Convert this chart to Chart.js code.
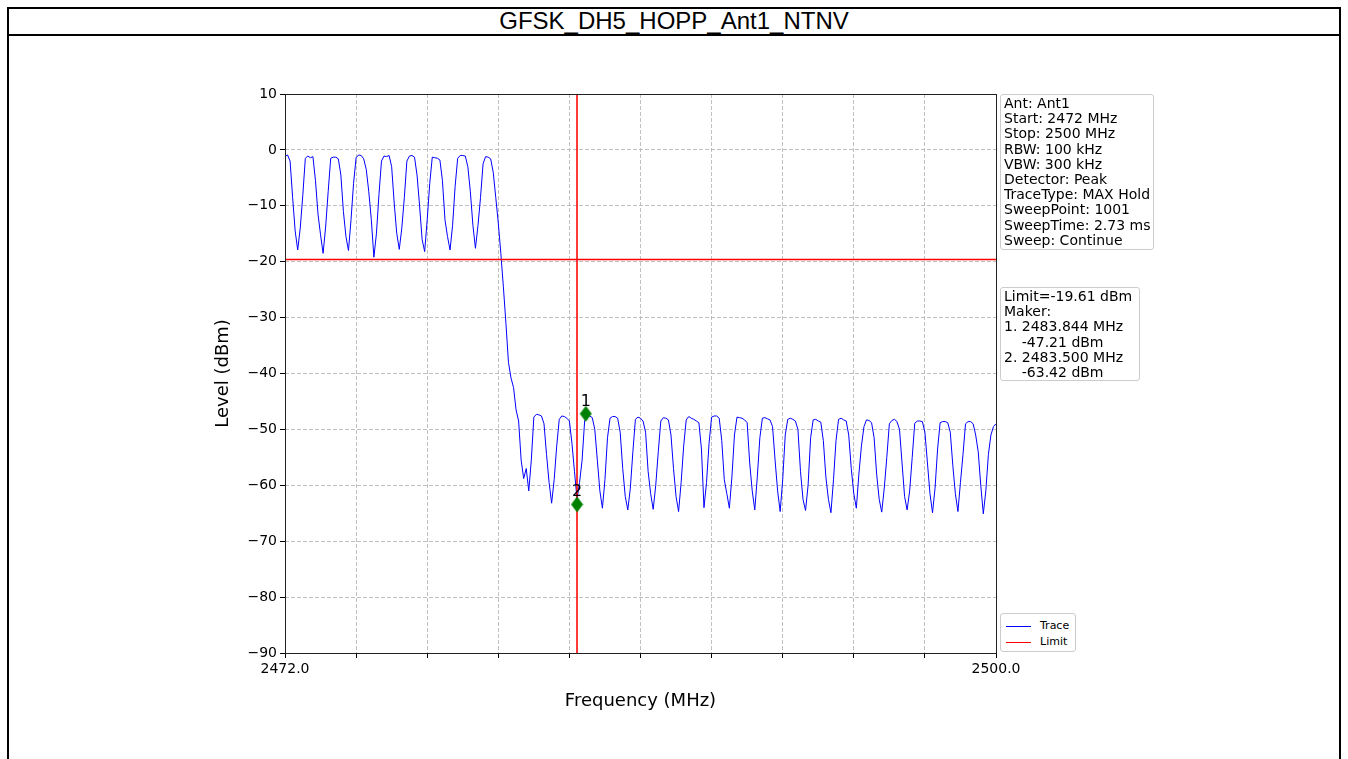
<!DOCTYPE html>
<html>
<head>
<meta charset="utf-8">
<title>GFSK_DH5_HOPP_Ant1_NTNV</title>
<script src="https://cdn.jsdelivr.net/npm/chart.js@4.4.1/dist/chart.umd.min.js"></script>
<style>
  html, body { margin: 0; padding: 0; background: #fff; }
  body { width: 1348px; height: 759px; position: relative; overflow: hidden; }
  #frame {
    position: absolute; left: 7px; top: 7px; width: 1334px; height: 800px;
    border: 2px solid #000; box-sizing: border-box;
  }
  #title {
    position: absolute; left: 7px; top: 7px; width: 1334px; height: 29px;
    border-bottom: 2px solid #000; box-sizing: border-box;
    font: 24px "Liberation Sans", Arial, sans-serif; text-align: center; line-height: 27px;
  }
  #plot { position: absolute; left: 193px; top: 36px; }
  .infobox {
    position: absolute; border: 1px solid #cccccc; border-radius: 3px; background: #fff;
    font: 14px "DejaVu Sans", sans-serif; line-height: 15.2px; padding: 1px 3px;
    white-space: pre; box-sizing: border-box; color: #000;
  }
  #settings { left: 1000px; top: 94px; width: 154px; height: 156px; }
  #limits { left: 1000px; top: 287px; width: 140px; height: 94px; }
  #legend { left: 1000px; top: 613px; width: 76px; height: 39px; font-size: 11px; padding: 4px 0 0 5px; line-height: 16px; }
  #legend .swatch { display: inline-block; width: 25px; height: 0; border-top: 1.5px solid; vertical-align: middle; margin-right: 9px; }
</style>
</head>
<body>
<div id="frame"></div>
<div id="title">GFSK_DH5_HOPP_Ant1_NTNV</div>
<canvas id="plot" width="967" height="723"></canvas>
<div class="infobox" id="settings">Ant: Ant1
Start: 2472 MHz
Stop: 2500 MHz
RBW: 100 kHz
VBW: 300 kHz
Detector: Peak
TraceType: MAX Hold
SweepPoint: 1001
SweepTime: 2.73 ms
Sweep: Continue</div>
<div class="infobox" id="limits">Limit=-19.61 dBm
Maker:
1. 2483.844 MHz
    -47.21 dBm
2. 2483.500 MHz
    -63.42 dBm</div>
<div class="infobox" id="legend"></div>

<script>
// sweep grid (MHz)
var sweepStartMHz = 2472;
var sweepStopMHz = 2500;
var sweepStepMHz = 0.1;

// max hold trace, dBm, one row per MHz (n.0 ... n.9)
var traceLevelDbm = [
  -1.2, -0.9, -2.0, -8.5, -14.5, -17.9, -14.0, -8.2, -1.5, -1.1,       // 2472
  -1.4, -1.2, -5.5, -11.5, -15.2, -18.5, -13.8, -7.5, -1.5, -1.3,      // 2473
  -1.3, -1.6, -4.5, -11.0, -15.5, -18.0, -12.5, -6.0, -1.4, -0.9,      // 2474
  -1.0, -1.6, -3.5, -7.5, -12.5, -19.2, -15.0, -8.0, -2.0, -1.1,       // 2475
  -1.2, -1.0, -3.0, -9.5, -14.9, -17.8, -14.0, -8.5, -2.0, -1.1,       // 2476
  -1.0, -1.3, -4.5, -10.0, -16.0, -18.2, -12.5, -6.0, -1.3, -1.4,      // 2477
  -1.5, -1.8, -5.5, -12.5, -15.5, -17.9, -13.5, -6.5, -1.5, -1.0,      // 2478
  -1.0, -1.1, -3.0, -7.5, -13.5, -17.6, -13.5, -8.5, -2.5, -1.2,       // 2479
  -1.3, -1.6, -4.0, -8.5, -13.1, -18.5, -24.5, -31.0, -38.0, -40.8,    // 2480
  -42.5, -46.5, -48.5, -55.5, -58.8, -57.0, -61.0, -55.5, -47.8, -47.3, // 2481
  -47.4, -47.6, -49.0, -54.5, -59.5, -63.2, -59.0, -53.0, -48.2, -47.6, // 2482
  -47.7, -48.0, -48.5, -52.5, -57.5, -62.5, -59.5, -55.5, -48.5, -47.6, // 2483
  -47.6, -47.9, -50.0, -55.5, -61.0, -64.1, -59.0, -51.5, -48.0, -47.7, // 2484
  -47.7, -48.0, -50.5, -57.0, -62.0, -64.4, -60.5, -54.0, -48.2, -47.8, // 2485
  -48.0, -48.5, -50.5, -57.5, -61.5, -64.3, -60.0, -54.0, -48.5, -47.9, // 2486
  -48.0, -48.3, -51.0, -57.0, -62.0, -64.7, -59.5, -53.0, -48.3, -47.7, // 2487
  -48.0, -48.2, -48.5, -48.8, -53.5, -64.0, -59.5, -52.5, -47.8, -47.6, // 2488
  -47.6, -48.0, -52.0, -59.0, -61.5, -64.1, -58.5, -51.0, -47.8, -47.9, // 2489
  -48.0, -48.3, -48.8, -56.0, -61.0, -64.4, -58.5, -51.5, -48.0, -47.9, // 2490
  -48.1, -48.3, -49.5, -55.5, -61.0, -64.7, -59.0, -51.0, -48.2, -48.0, // 2491
  -48.2, -48.5, -50.0, -57.5, -62.5, -64.5, -60.0, -51.5, -48.3, -48.2, // 2492
  -48.5, -48.7, -52.0, -58.5, -62.5, -64.9, -59.0, -52.0, -48.2, -48.0, // 2493
  -48.3, -48.5, -51.0, -57.0, -61.5, -64.1, -58.0, -53.0, -49.5, -48.3, // 2494
  -48.4, -48.8, -51.5, -58.0, -62.5, -64.8, -60.5, -55.0, -49.0, -48.4, // 2495
  -48.2, -48.6, -50.0, -56.0, -62.0, -64.4, -61.0, -55.0, -48.9, -48.5, // 2496
  -48.5, -48.6, -50.5, -56.0, -61.5, -64.9, -60.5, -53.5, -48.8, -48.6, // 2497
  -48.6, -48.8, -50.5, -56.5, -61.5, -64.7, -59.5, -54.5, -49.0, -48.6, // 2498
  -48.6, -49.0, -51.0, -54.0, -60.0, -65.1, -61.0, -54.5, -51.0, -49.5, // 2499
  -49.0                                                                 // 2500
];

var limitDbm = -19.61;
var bandEdgeMHz = 2483.5;

var markerNames = ['1', '2'];
var markerFreqMHz = [2483.844, 2483.5];
var markerLevelDbm = [-47.21, -63.42];

var xTickValues = [2472, 2474.8, 2477.6, 2480.4, 2483.2, 2486, 2488.8, 2491.6, 2494.4, 2497.2, 2500];
var xTickLabels = ['2472.0', '', '', '', '', '', '', '', '', '', '2500.0'];
var yTickValues = [-90, -80, -70, -60, -50, -40, -30, -20, -10, 0, 10];

var traceColor = '#0000ff';
var limitColor = '#ff0000';
var markerColor = '#008000';

var tracePoints = traceLevelDbm.map(function (level, i) {
  return { x: sweepStartMHz + i * sweepStepMHz, y: level };
});

var markerPoints = markerFreqMHz.map(function (f, i) {
  return { x: f, y: markerLevelDbm[i] };
});

// thin diamond like matplotlib's 'd' marker
function makeDiamond() {
  var c = document.createElement('canvas');
  c.width = 13;
  c.height = 17;
  var g = c.getContext('2d');
  g.fillStyle = markerColor;
  g.beginPath();
  g.moveTo(6.5, 0.5);
  g.lineTo(12.5, 8.5);
  g.lineTo(6.5, 16.5);
  g.lineTo(0.5, 8.5);
  g.closePath();
  g.fill();
  return c;
}

var axisFont = { family: '"DejaVu Sans", sans-serif', size: 14 };
var titleFont = { family: '"DejaVu Sans", sans-serif', size: 18 };

function minusSign(v) {
  return v < 0 ? '\u2212' + Math.abs(v) : String(v);
}

// black box round the plot area, plus marker numbers
var framePlugin = {
  id: 'frameAndLabels',
  afterDatasetsDraw: function (chart) {
    var ctx = chart.ctx;
    var a = chart.chartArea;
    var xs = chart.scales.x;
    var ys = chart.scales.y;
    ctx.save();
    ctx.strokeStyle = '#222';
    ctx.lineWidth = 1;
    ctx.setLineDash([]);
    ctx.strokeRect(Math.round(a.left) + 0.5, Math.round(a.top) + 0.5,
      Math.round(a.right - a.left), Math.round(a.bottom - a.top));

    ctx.fillStyle = '#000';
    ctx.font = '16px "DejaVu Sans", sans-serif';
    ctx.textAlign = 'center';
    ctx.textBaseline = 'alphabetic';
    for (var i = 0; i < markerNames.length; i++) {
      var px = xs.getPixelForValue(markerFreqMHz[i]);
      var py = ys.getPixelForValue(markerLevelDbm[i]);
      ctx.fillText(markerNames[i], px, py - 8);
    }
    ctx.restore();
  }
};

var chart = new Chart(document.getElementById('plot'), {
  type: 'line',
  data: {
    datasets: [
      {
        label: 'Marker',
        data: markerPoints,
        showLine: false,
        pointStyle: makeDiamond(),
        pointRadius: 6,
        order: 0
      },
      {
        label: 'Band edge',
        data: [{ x: bandEdgeMHz, y: 10 }, { x: bandEdgeMHz, y: -90 }],
        borderColor: limitColor,
        borderWidth: 0.8,
        pointRadius: 0,
        order: 1
      },
      {
        label: 'Limit',
        data: [{ x: sweepStartMHz, y: limitDbm }, { x: sweepStopMHz, y: limitDbm }],
        borderColor: limitColor,
        backgroundColor: limitColor,
        borderWidth: 1.5,
        pointRadius: 0,
        order: 2
      },
      {
        label: 'Trace',
        data: tracePoints,
        borderColor: traceColor,
        borderWidth: 1,
        pointRadius: 0,
        tension: 0,
        order: 3
      }
    ]
  },
  options: {
    responsive: false,
    animation: false,
    devicePixelRatio: 1,
    layout: { padding: { top: 58, right: 164, bottom: 43, left: 16 } },
    plugins: {
      legend: { display: false },
      tooltip: { enabled: false }
    },
    scales: {
      x: {
        type: 'linear',
        min: sweepStartMHz,
        max: sweepStopMHz,
        afterBuildTicks: function (scale) {
          scale.ticks = xTickValues.map(function (v) { return { value: v }; });
        },
        afterFit: function (scale) { scale.height = 63; },
        ticks: {
          autoSkip: false,
          maxRotation: 0,
          padding: 3,
          color: '#000',
          font: axisFont,
          callback: function (value, index) { return xTickLabels[index]; }
        },
        grid: {
          color: '#b0b0b0',
          lineWidth: 0.8,
          drawTicks: true,
          tickLength: 5,
          tickColor: '#000',
          tickWidth: 1
        },
        border: { display: false, dash: [4, 2] },
        title: { display: true, text: 'Frequency (MHz)', color: '#000', font: titleFont }
      },
      y: {
        min: -90,
        max: 10,
        afterBuildTicks: function (scale) {
          scale.ticks = yTickValues.map(function (v) { return { value: v }; });
        },
        afterFit: function (scale) { scale.width = 76; },
        ticks: {
          padding: 3,
          color: '#000',
          font: axisFont,
          callback: function (value) { return minusSign(value); }
        },
        grid: {
          color: '#b0b0b0',
          lineWidth: 0.8,
          drawTicks: true,
          tickLength: 5,
          tickColor: '#000',
          tickWidth: 1
        },
        border: { display: false, dash: [4, 2] },
        title: { display: true, text: 'Level (dBm)', color: '#000', font: titleFont }
      }
    }
  },
  plugins: [framePlugin]
});

// legend box, only trace and limit
var legendBox = document.getElementById('legend');
chart.data.datasets.forEach(function (ds) {
  if (ds.label !== 'Trace' && ds.label !== 'Limit') return;
  var row = document.createElement('div');
  var sw = document.createElement('span');
  sw.className = 'swatch';
  sw.style.borderColor = ds.borderColor;
  row.appendChild(sw);
  row.appendChild(document.createTextNode(ds.label));
  if (ds.label === 'Trace') legendBox.insertBefore(row, legendBox.firstChild);
  else legendBox.appendChild(row);
});
</script>
</body>
</html>
